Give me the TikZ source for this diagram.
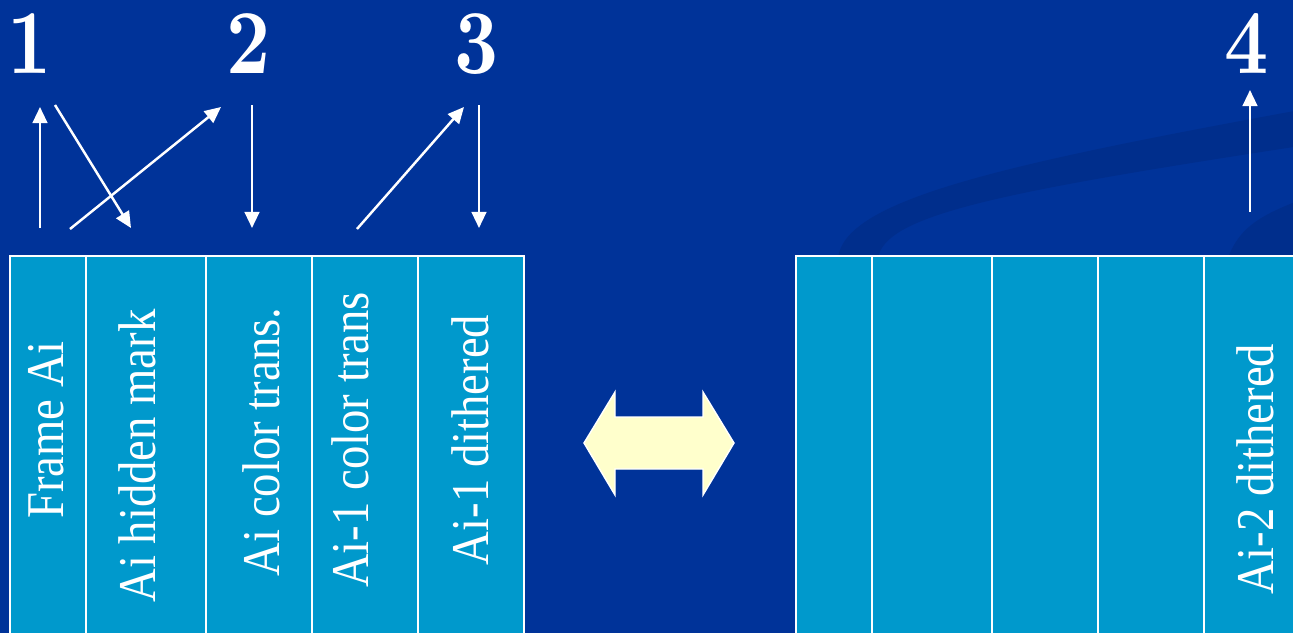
\documentclass[tikz,border=0pt]{standalone}
\usepackage{fontspec}
\usetikzlibrary{arrows.meta}
\newfontfamily\cellfont[FakeStretch=0.88]{Liberation Serif}
\newfontfamily\numfont[Extension=.otf,FakeStretch=0.84]{lmroman10-bold}
\definecolor{slidebg}{RGB}{0,51,153}
\definecolor{swoosh}{RGB}{0,46,140}
\definecolor{cellfill}{RGB}{0,153,204}
\definecolor{swapfill}{RGB}{255,255,204}
\tikzset{
  link/.style={white, line width=0.7pt, -{Triangle[length=4.6pt,width=4.2pt]}},
  num/.style={white, anchor=base, inner sep=0pt, font=\numfont\fontsize{26}{30}\selectfont},
  celltext/.style={white, rotate=90, anchor=base, inner sep=0pt, font=\cellfont\fontsize{15.1}{18}\selectfont},
  grid/.style={white, line width=0.6pt}
}
\begin{document}
\begin{tikzpicture}[x=0.01cm,y=-0.01cm]
    \useasboundingbox (0,0) rectangle (1293,633);
    \clip (0,0) rectangle (1293,633);
    \fill[slidebg] (0,0) rectangle (1293,633);
    % background swooshes
    \fill[swoosh] (838,258) .. controls (845,200) and (1000,165) .. (1300,110)
        -- (1300,146) .. controls (1000,192) and (885,215) .. (878,258) -- cycle;
    \fill[swoosh] (1228,258) .. controls (1240,225) and (1265,214) .. (1300,200)
        -- (1300,258) -- cycle;
    % the two frame tables
    \foreach \dx in {0,786} {
        \draw[grid, fill=cellfill] (10+\dx,256) rectangle (524+\dx,650);
        \foreach \x in {86,206,312,418}
            \draw[grid] (\x+\dx,256) -- (\x+\dx,650);
    }
    \node[celltext] (frame) at (64,430) {Frame Ai};
    \node[celltext] (mark) at (155.5,456) {Ai hidden mark};
    \node[celltext] (trans) at (279,442) {Ai color trans.};
    \node[celltext] (prevtrans) at (368.5,440) {Ai-1 color trans};
    \node[celltext] (prevdith) at (488.5,440) {Ai-1 dithered};
    \node[celltext] (olddith) at (1273,469) {Ai-2 dithered};
    % step numbers
    \node[num] (n1) at (30,73) {1};
    \node[num] (n2) at (249,73) {2};
    \node[num] (n3) at (477,73) {3};
    \node[num] (n4) at (1247,73) {4};
    % arrow end points
    \coordinate (A1) at (40,228);
    \coordinate (B1) at (40,107);
    \coordinate (A2) at (55,105);
    \coordinate (B2) at (131,228);
    \coordinate (A3) at (70,229);
    \coordinate (B3) at (221,107);
    \coordinate (A4) at (252,105);
    \coordinate (B4) at (252,228);
    \coordinate (A5) at (357,229);
    \coordinate (B5) at (464,107);
    \coordinate (A6) at (479,105);
    \coordinate (B6) at (479,228);
    \coordinate (A7) at (1250,212);
    \coordinate (B7) at (1250,90);
    \draw[link] (A1) -- (B1);
    \draw[link] (A2) -- (B2);
    \draw[link] (A3) -- (B3);
    \draw[link] (A4) -- (B4);
    \draw[link] (A5) -- (B5);
    \draw[link] (A6) -- (B6);
    \draw[link] (A7) -- (B7);
    % swap arrow between the tables
    \draw[white, line width=0.4pt, fill=swapfill] (584,443) -- (615,392) -- (615,417)
        -- (703,417) -- (703,392) -- (734,443) -- (703,495) -- (703,469)
        -- (615,469) -- (615,495) -- cycle;
\end{tikzpicture}
\end{document}
